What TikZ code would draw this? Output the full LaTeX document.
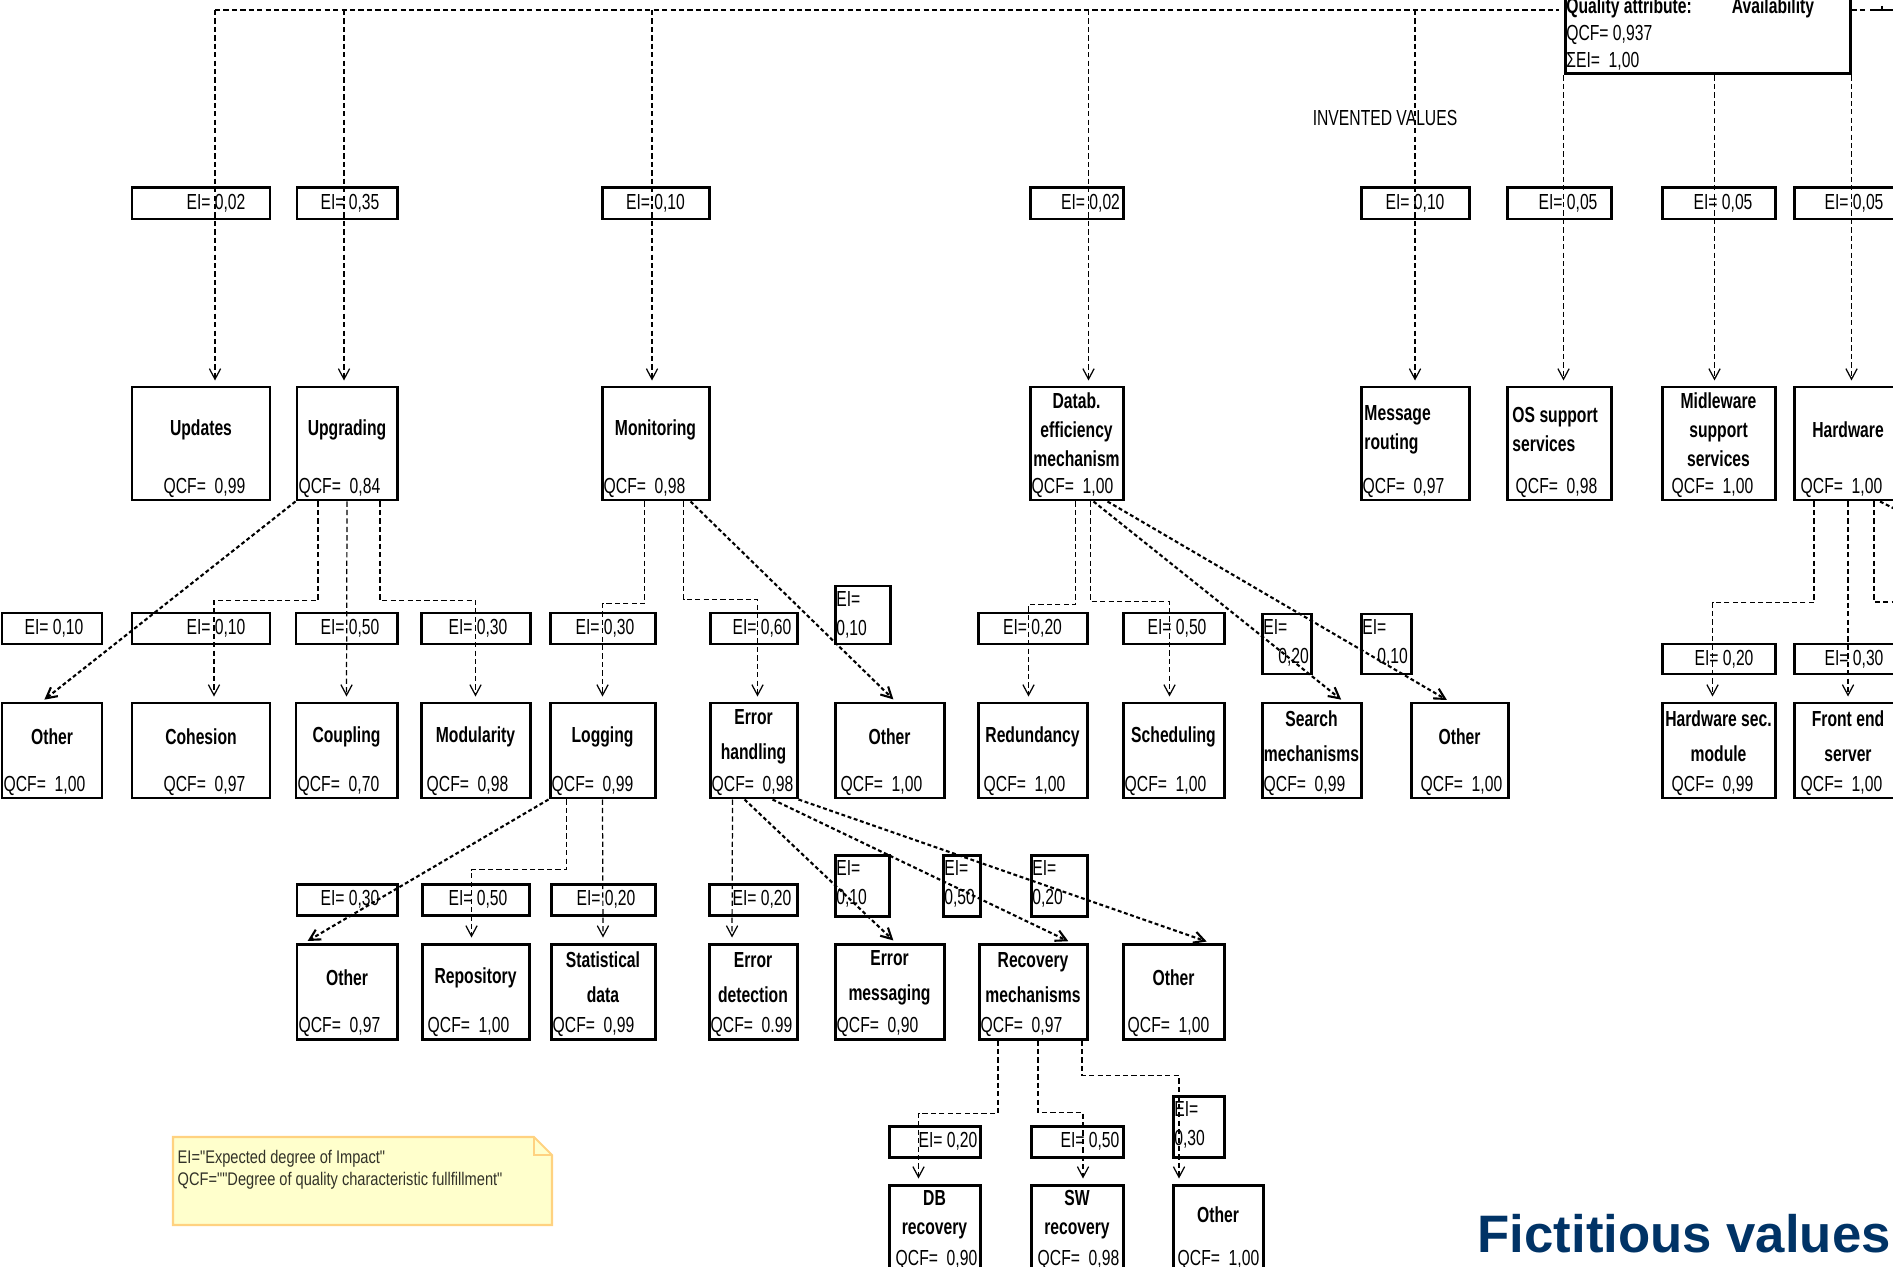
\documentclass[tikz,border=0pt]{standalone}
\usepackage{fontspec}
\setmainfont{Liberation Sans}[FakeStretch=0.72]
\newfontfamily\notefont{Liberation Sans}[FakeStretch=0.8]
\newfontfamily\fictfont{Liberation Sans}
\usepackage{tikz}
\usetikzlibrary{arrows.meta,fit}
\definecolor{notefill}{RGB}{255,255,204}
\definecolor{noteline}{RGB}{255,210,128}
\definecolor{notetext}{RGB}{50,50,40}
\definecolor{fictblue}{RGB}{0,51,102}
\newcommand{\boxfont}{\fontsize{6.2}{8.2}\selectfont}

% box with bold title and QCF value, #1 = extra styles
\newcommand{\qbox}[6][]{%
  \begin{scope}[#1]
    \path (#3) coordinate (#2-a) (#4) coordinate (#2-b);
    \node[qbox, fit=(#2-a)(#2-b)] (#2) {};
    \node[qtitle] at ([yshift=1.4mm]#2.center) {#5};
    \node[qcf] at ([xshift=0.25mm, yshift=0.8mm]#2.south west) {QCF=\ \ #6};
  \end{scope}
}
% EI boxes, #1 = shift of the text
\newcommand{\eibox}[5][0mm]{%
  \path (#3) coordinate (#2-a) (#4) coordinate (#2-b);
  \node[eibox, fit=(#2-a)(#2-b)] (#2) {};
  \node[eitext, xshift=#1] at (#2.center) {EI= #5};
}
\newcommand{\eitall}[4]{%
  \path (#2) coordinate (#1-a) (#3) coordinate (#1-b);
  \node[eibox, fit=(#1-a)(#1-b)] (#1) {};
  \node[eitext, anchor=north west, align=left, inner ysep=1.8pt] at (#1.north west) {EI=\\#4};
}

\begin{document}
\begin{tikzpicture}[x=0.1mm, y=-0.1mm,
  qbox/.style={draw, line width=0.85pt, inner sep=0pt},
  eibox/.style={draw, line width=0.85pt, inner sep=0pt},
  qtitle/.style={font=\boxfont\bfseries, align=center, inner sep=0.5pt},
  qcf/.style={font=\boxfont, anchor=base west, inner sep=0pt},
  eitext/.style={font=\boxfont, inner xsep=0.6pt, inner ysep=0.6pt},
  link/.style={dash pattern=on 1.5pt off 0.9pt, line width=0.35pt, shorten >=0.5mm},
  slant/.style={dash pattern=on 1.1pt off 0.75pt, line width=0.6pt, shorten >=0.3mm},
  >={Straight Barb[length=3pt,width=3.2pt]}]
\useasboundingbox (0,0) rectangle (1893,1267);
\clip (0,0) rectangle (1893,1267);

% root
\path (1565,-8) coordinate (root-a) (1850,74) coordinate (root-b);
\node[qbox, fit=(root-a)(root-b)] (root) {};
\node[anchor=north west, align=left, font=\fontsize{6.2}{7.7}\selectfont, inner xsep=0.6pt, inner ysep=1.8pt] (roottext) at (root.north west)
  {\textbf{Quality attribute:}\hspace{4mm}\textbf{Availability}\\QCF= 0,937\\ ΣEI=\ \ 1,00};
\node[font=\fontsize{6.2}{8}\selectfont] (inv) at (1385,118) {INVENTED VALUES};

% level 1
\eibox[1.5mm]{e1upd}{132,188}{270,219}{0,02}
\eibox[0.3mm]{e1upg}{297,188}{397,219}{0,35}
\eibox{e1mon}{602,188}{709,219}{0,10}
\eibox[1.4mm]{e1db}{1030,188}{1123,219}{0,02}
\eibox{e1msg}{1361,188}{1469,219}{0,10}
\eibox[0.9mm]{e1os}{1507,188}{1611,219}{0,05}
\eibox[0.45mm]{e1mid}{1662,188}{1775,219}{0,05}
\eibox[0.6mm]{e1hw}{1794,188}{1902,219}{0,05}

\qbox[qcf/.append style={xshift=3mm}]{upd}{132,387}{270,500}{Updates}{0,99}
\qbox{upg}{297,387}{397,500}{Upgrading}{0,84}
\qbox{mon}{602,387}{709,500}{Monitoring}{0,98}
\qbox{db}{1030,387}{1123,500}{Datab.\\efficiency\\mechanism}{1,00}
\qbox[qtitle/.append style={anchor=west, align=left, xshift=-5.3mm}]{msg}{1361,387}{1469,500}{Message\\routing}{0,97}
\qbox[qtitle/.append style={anchor=west, align=left, xshift=-4.9mm}, qcf/.append style={xshift=0.7mm}]{os}{1507,387}{1611,500}{OS support\\services}{0,98}
\qbox[qcf/.append style={xshift=0.8mm}]{mid}{1662,387}{1775,500}{Midleware\\support\\services}{1,00}
\qbox[qcf/.append style={xshift=0.5mm}]{hw}{1794,387}{1902,500}{Hardware}{1,00}

% level 2 and 3, titles more spread
\begin{scope}[qtitle/.append style={font=\fontsize{6.2}{10}\selectfont\bfseries}]
\eibox[0.2mm]{e2oth1}{2,613}{102,644}{0,10}
\eibox[1.5mm]{e2coh}{132,613}{270,644}{0,10}
\eibox[0.35mm]{e2cpl}{296,613}{397,644}{0,50}
\eibox[0.25mm]{e2mod}{421,613}{530,644}{0,30}
\eibox[0.25mm]{e2log}{550,613}{655,644}{0,30}
\eibox[0.85mm]{e2errh}{710,613}{797,644}{0,60}
\eitall{e2oth2}{835,586}{890,644}{0,10}
\eibox{e2red}{978,613}{1087,644}{0,20}
\eibox[0.35mm]{e2sch}{1123,613}{1224,644}{0,50}
\eitall{e2sea}{1262,614}{1311,674}{\hspace*{1.5mm}0,20}
\eitall{e2oth3}{1361,614}{1411,674}{\hspace*{1.5mm}0,10}
\eibox[0.55mm]{e2hws}{1662,644}{1775,674}{0,20}
\eibox[0.6mm]{e2fe}{1794,644}{1902,674}{0,30}

\qbox{oth1}{2,703}{102,798}{Other}{1,00}
\qbox[qcf/.append style={xshift=3mm}]{coh}{132,703}{270,798}{Cohesion}{0,97}
\qbox{cpl}{296,703}{397,798}{Coupling}{0,70}
\qbox[qcf/.append style={xshift=0.4mm}]{mod}{421,703}{530,798}{Modularity}{0,98}
\qbox{log}{550,703}{655,798}{Logging}{0,99}
\qbox{errh}{710,703}{797,798}{Error\\handling}{0,98}
\qbox[qcf/.append style={xshift=0.4mm}]{oth2}{835,703}{944,798}{Other}{1,00}
\qbox[qcf/.append style={xshift=0.4mm}]{red}{978,703}{1087,798}{Redundancy}{1,00}
\qbox{sch}{1123,703}{1224,798}{Scheduling}{1,00}
\qbox{sea}{1262,703}{1361,798}{Search\\mechanisms}{0,99}
\qbox[qcf/.append style={xshift=0.8mm}]{oth3}{1411,703}{1508,798}{Other}{1,00}
\qbox[qcf/.append style={xshift=0.8mm}]{hws}{1662,703}{1775,798}{Hardware sec.\\module}{0,99}
\qbox[qcf/.append style={xshift=0.5mm}]{fe}{1794,703}{1902,798}{Front end\\server}{1,00}

% level 3
\eibox[0.3mm]{e3oth4}{297,884}{397,915}{0,30}
\eibox[0.25mm]{e3rep}{422,884}{529,915}{0,50}
\eibox[0.3mm]{e3stat}{551,884}{655,915}{0,20}
\eibox[0.9mm]{e3edet}{709,884}{797,915}{0,20}
\eitall{e3emsg}{835,855}{889,916}{0,10}
\eitall{e3rec}{943,855}{980,916}{0,50}
\eitall{e3oth5}{1031,855}{1087,916}{0,20}

\qbox{oth4}{297,944}{397,1039}{Other}{0,97}
\qbox[qcf/.append style={xshift=0.4mm}]{rep}{422,944}{529,1039}{Repository}{1,00}
\qbox{stat}{551,944}{655,1039}{Statistical\\data}{0,99}
\qbox{edet}{709,944}{797,1039}{Error\\detection}{0.99}
\qbox{emsg}{835,944}{944,1039}{Error\\messaging}{0,90}
\qbox{rec}{979,944}{1087,1039}{Recovery\\mechanisms}{0,97}
\qbox[qcf/.append style={xshift=0.3mm}]{oth5}{1123,944}{1224,1039}{Other}{1,00}
\end{scope}

% level 4
\eibox[1.35mm]{e4dbr}{889,1126}{980,1157}{0,20}
\eibox[1.3mm]{e4swr}{1031,1126}{1123,1157}{0,50}
\eitall{e4oth6}{1173,1096}{1224,1157}{0,30}

\qbox[qcf/.append style={xshift=0.5mm}]{dbr}{889,1185}{980,1272}{DB\\recovery}{0,90}
\qbox[qcf/.append style={xshift=0.5mm}]{swr}{1031,1185}{1123,1272}{SW\\recovery}{0,98}
\qbox[qcf/.append style={xshift=0.3mm}]{oth6}{1173,1185}{1263,1272}{Other}{1,00}

% connectors
\coordinate (bus) at (215,10);
\coordinate (offA) at (1900,602);
\coordinate (offB) at (1905,514);
\coordinate (offC) at (1870,10);
\coordinate (offD) at (1893,10);
\draw[link] (bus) -- (bus -| root.west);
\draw[link] (bus -| root.east) -- (offC);
\draw[line width=0.35pt] (offC) -- (offD) ([yshift=0.4mm]offC -| 1882,0) -- ([yshift=-0.15mm]offC -| 1882,0);
\draw[link,->] (bus) -- (bus |- upd.north);
\draw[link,->] ([xshift=-0.3mm]upg.north |- bus) -- ([xshift=-0.3mm]upg.north);
\draw[link,->] ([xshift=-0.35mm]mon.north |- bus) -- ([xshift=-0.35mm]mon.north);
\draw[link,->] ([xshift=1.2mm]db.north |- bus) -- ([xshift=1.2mm]db.north);
\draw[link,->] (msg.north |- bus) -- (msg.north);
\draw[link,->] (root.south west) -- (root.south west |- os.north);
\draw[link,->] ([xshift=-0.4mm]mid.north |- root.south) -- ([xshift=-0.4mm]mid.north);
\draw[link,->] (root.south east) -- (root.south east |- hw.north);

\draw[slant,->] (upg.south west) -- ([xshift=-1mm]oth1.north);
\draw[link,->] ([xshift=-2.9mm]upg.south) -- ++(0,99) -| ([xshift=1.3mm]coh.north);
\draw[link,->] (upg.south) -- (cpl.north);
\draw[link,->] ([xshift=3.3mm]upg.south) -- ++(0,99) -| (mod.north);

\draw[link,->] ([xshift=-1.1mm]mon.south) -- ++(0,102) -| (log.north);
\draw[link,->] ([xshift=2.8mm]mon.south) -- ++(0,98) -| ([xshift=0.4mm]errh.north);
\draw[slant,->] ([xshift=3.5mm]mon.south) -- ([xshift=0.6mm]oth2.north);

\draw[link,->] ([xshift=-0.1mm]db.south) -- ++(0,103) -| ([xshift=-0.4mm]red.north);
\draw[link,->] ([xshift=1.4mm]db.south) -- ++(0,100) -| ([xshift=-0.4mm]sch.north);
\draw[slant,->] ([xshift=1.7mm]db.south) -- ([xshift=3.2mm]sea.north);
\draw[slant,->] ([xshift=3.1mm]db.south) -- ([xshift=-1mm]oth3.north);

\draw[link,->] ([xshift=-3.4mm]hw.south) -- ++(0,101) -| ([xshift=-0.6mm]hws.north);
\draw[link,->] (hw.south) -- (fe.north);
\draw[link] ([xshift=2.6mm]hw.south) |- (offA);
\draw[slant] ([xshift=3.2mm]hw.south) -- (offB);

\draw[slant,->] (log.south west) -- ([xshift=-4.2mm]oth4.north);
\draw[link,->] ([xshift=-3.6mm]log.south) -- ++(0,70) -| ([xshift=-0.4mm]rep.north);
\draw[link,->] (log.south) -- (stat.north);

\draw[link,->] ([xshift=-2.1mm]errh.south) -- ([xshift=-2.1mm]edet.north);
\draw[slant,->] ([xshift=-0.9mm]errh.south) -- ([xshift=0.6mm]emsg.north);
\draw[slant,->] ([xshift=1.9mm]errh.south) -- ([xshift=3.8mm]rec.north);
\draw[slant,->] (errh.south east) -- ([xshift=3.6mm]oth5.north);

\draw[link,->] ([xshift=-3.5mm]rec.south) -- ++(0,73) -| ([xshift=-1.6mm]dbr.north);
\draw[link,->] ([xshift=0.5mm]rec.south) -- ++(0,72) -| ([xshift=0.6mm]swr.north);
\draw[link,->] ([xshift=4.9mm]rec.south) -- ++(0,35) -| ([xshift=-3.9mm]oth6.north);

% note
\draw[draw=noteline, fill=notefill, line width=0.6pt] (173,1137) -- (534,1137) -- (552,1155) -- (552,1225) -- (173,1225) -- cycle;
\draw[noteline, line width=0.6pt] (534,1137) -- (534,1155) -- (552,1155);
\node[anchor=north west, align=left, inner sep=0pt, text=notetext, font=\notefont\fontsize{5.2}{6.1}\selectfont] (note) at (177,1150)
  {EI="Expected degree of Impact"\\QCF=""Degree of quality characteristic fullfillment"};

\node[anchor=base west, inner sep=0pt, text=fictblue, font=\fictfont\bfseries\fontsize{15}{18}\selectfont] (fict) at (1477,1252) {Fictitious values};
\end{tikzpicture}
\end{document}
